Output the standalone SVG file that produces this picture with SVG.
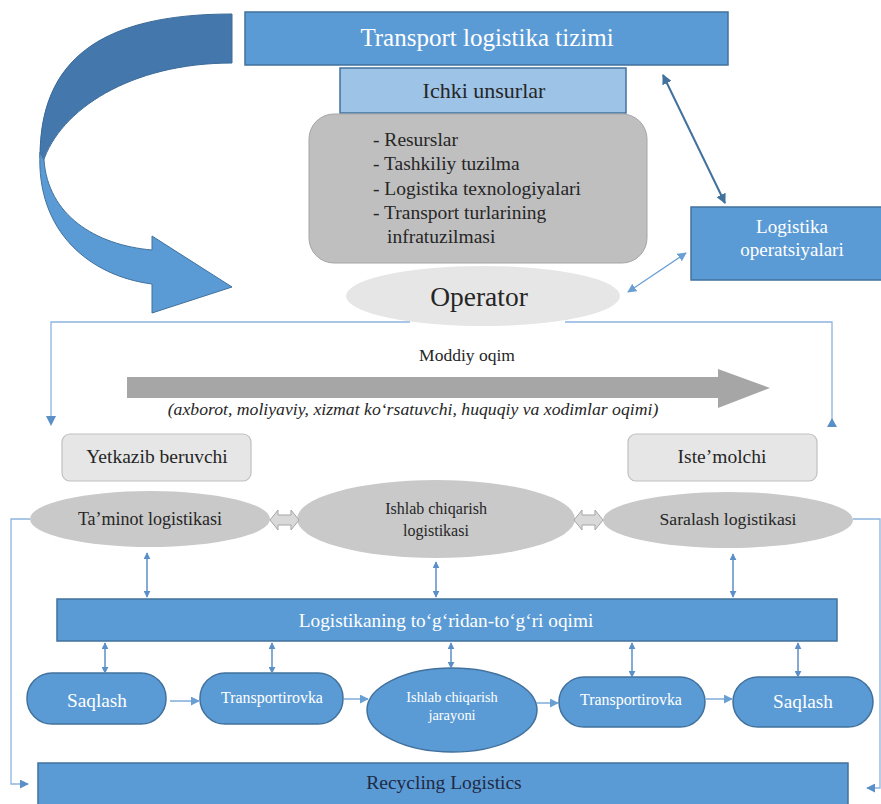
<svg xmlns="http://www.w3.org/2000/svg" width="881" height="804" viewBox="0 0 881 804" font-family="Liberation Serif, Times New Roman, Times, serif">
<defs>
<style>
.blue{fill:#5b9bd5;stroke:#41719c;stroke-width:1.5}
.lblue{fill:#9dc3e6;stroke:#41719c;stroke-width:1.5}
.gbox{fill:#bfbfbf;stroke:#a5a5a5;stroke-width:1}
.lgbox{fill:#e7e6e6;stroke:#c0c0c0;stroke-width:1.2}
.gell{fill:#c9c9c9;stroke:none}
.t{text-anchor:middle}
.w{fill:#ffffff}
.d{fill:#262626}
.ln{fill:none;stroke:#8db4de;stroke-width:1.3}
.va{fill:none;stroke:#5b8fc7;stroke-width:1.5}
.ha{fill:none;stroke:#6a9fd4;stroke-width:1.3}
.gdbl{fill:#d9d9d9;stroke:#a6a6a6;stroke-width:1}
</style>
<marker id="ah" viewBox="0 0 10 10" refX="9" refY="5" markerWidth="7" markerHeight="7" markerUnits="userSpaceOnUse" orient="auto-start-reverse"><path d="M0,0 L10,5 L0,10 Z" fill="#5b8fc7"/></marker>
<marker id="ahs" viewBox="0 0 10 10" refX="9" refY="5" markerWidth="9" markerHeight="9" markerUnits="userSpaceOnUse" orient="auto-start-reverse"><path d="M0,0 L10,5 L0,10 Z" fill="#6a9fd4"/></marker>
<marker id="ahd" viewBox="0 0 10 10" refX="9" refY="5" markerWidth="10" markerHeight="10" markerUnits="userSpaceOnUse" orient="auto-start-reverse"><path d="M0,0 L10,5 L0,10 Z" fill="#41719c"/></marker>
<marker id="ahl" viewBox="0 0 10 10" refX="9" refY="5" markerWidth="9" markerHeight="9" markerUnits="userSpaceOnUse" orient="auto-start-reverse"><path d="M0,0 L10,5 L0,10 Z" fill="#5b8fc7"/></marker>
</defs>
<rect width="881" height="804" fill="#ffffff"/>

<g id="curved-arrow">
<path d="M232,14 L232,63 C130,63 60,110 43,162 L40,157 C40,60 100,14 232,14 Z" fill="#4478ad" stroke="#3a6a99" stroke-width="1"/>
<path d="M40,152 C36,232 90,276 152,284 L152,313 L232,287 L152,236 L152,250 C95,245 48,215 44,160 Z" fill="#5b9bd5" stroke="#41719c" stroke-width="1"/>
</g>

<g id="transport-logistika-tizimi">
<rect class="blue" x="245" y="12" width="483" height="53"/>
<text class="t w" x="487" y="46" font-size="25">Transport logistika tizimi</text>
</g>

<g id="ichki-unsurlar">
<rect class="lblue" x="340" y="68" width="286" height="45"/>
<text class="t d" x="484" y="98" font-size="22">Ichki unsurlar</text>
</g>

<g id="elements">
<rect class="gbox" x="309" y="114" width="338" height="149" rx="25"/>
<g font-size="19.5" fill="#262626">
<text x="373" y="146">- Resurslar</text>
<text x="373" y="170">- Tashkiliy tuzilma</text>
<text x="373" y="195">- Logistika texnologiyalari</text>
<text x="373" y="219">- Transport turlarining</text>
<text x="387" y="243">infratuzilmasi</text>
</g>
</g>

<g id="operator">
<ellipse cx="483" cy="296" rx="137" ry="30" fill="#e7e6e6"/>
<text class="t d" x="479" y="306" font-size="27.5">Operator</text>
</g>

<g id="logistika-operatsiyalari">
<rect class="blue" x="691" y="207" width="195" height="73"/>
<text class="t w" x="792" y="233" font-size="19">Logistika</text>
<text class="t w" x="792" y="256" font-size="19">operatsiyalari</text>
</g>

<g id="moddiy-oqim">
<text class="t d" x="467" y="361" font-size="17.5">Moddiy oqim</text>
<polygon points="127,377 718,377 718,369 770,388 718,408 718,398 127,398" fill="#a6a6a6"/>
<text class="t d" x="413" y="415" font-size="17.7" font-style="italic">(axborot, moliyaviy, xizmat ko‘rsatuvchi, huquqiy va xodimlar oqimi)</text>
</g>

<g id="yetkazib-beruvchi">
<rect class="lgbox" x="62" y="434" width="189" height="47" rx="8"/>
<text class="t d" x="157" y="463" font-size="19.5">Yetkazib beruvchi</text>
</g>

<g id="iste-molchi">
<rect class="lgbox" x="628" y="434" width="189" height="47" rx="8"/>
<text class="t d" x="722" y="463" font-size="19.5">Iste’molchi</text>
</g>

<g id="taminot-logistikasi">
<ellipse class="gell" cx="150" cy="519" rx="120" ry="28"/>
<text class="t d" x="150" y="525" font-size="18">Ta’minot logistikasi</text>
</g>

<g id="ishlab-chiqarish-logistikasi">
<ellipse class="gell" cx="436" cy="519" rx="139" ry="39"/>
<text class="t d" x="436" y="514" font-size="16">Ishlab chiqarish</text>
<text class="t d" x="436" y="536" font-size="16">logistikasi</text>
</g>

<g id="saralash-logistikasi">
<ellipse class="gell" cx="728" cy="520" rx="125" ry="28"/>
<text class="t d" x="728" y="525" font-size="17.7">Saralash logistikasi</text>
</g>

<g id="logistikaning-oqimi">
<rect class="blue" x="57" y="599" width="780" height="42"/>
<text class="t w" x="446" y="627" font-size="19.3">Logistikaning to‘g‘ridan-to‘g‘ri oqimi</text>
</g>

<g id="saqlash-1">
<rect class="blue" x="27" y="673" width="139" height="51" rx="25"/>
<text class="t w" x="97" y="707" font-size="19.3">Saqlash</text>
</g>

<g id="transportirovka-1">
<rect class="blue" x="200" y="673" width="143" height="51" rx="25"/>
<text class="t w" x="272" y="703" font-size="15.9">Transportirovka</text>
</g>

<g id="ishlab-chiqarish-jarayoni">
<ellipse class="blue" cx="452" cy="710" rx="85" ry="42"/>
<text class="t w" x="452" y="702" font-size="14.4">Ishlab chiqarish</text>
<text class="t w" x="452" y="720" font-size="14.4">jarayoni</text>
</g>

<g id="transportirovka-2">
<rect class="blue" x="559" y="677" width="146" height="50" rx="25"/>
<text class="t w" x="631" y="705" font-size="15.9">Transportirovka</text>
</g>

<g id="saqlash-2">
<rect class="blue" x="733" y="677" width="140" height="50" rx="25"/>
<text class="t w" x="803" y="708" font-size="19.3">Saqlash</text>
</g>

<g id="recycling-logistics">
<rect class="blue" x="38" y="763" width="810" height="45"/>
<text class="t" x="444" y="789" font-size="19.5" fill="#1f2a44">Recycling Logistics</text>
</g>

<g id="connectors">
<line x1="663" y1="75" x2="725" y2="203" stroke="#41719c" stroke-width="2" marker-start="url(#ahd)" marker-end="url(#ahd)"/>
<line x1="628" y1="292" x2="686" y2="253" class="ha" marker-start="url(#ahs)" marker-end="url(#ahs)"/>
<polyline class="ln" points="410,322 51,322 51,418"/>
<path d="M46,416 L56,416 L51,426 Z" fill="#5b8fc7"/>
<polyline class="ln" points="565,322 832,322 832,420"/>
<path d="M827,427 L837,427 L832,418 Z" fill="#5b8fc7"/>
<polygon class="gdbl" points="270,520 278,510 278,515 291,515 291,510 299,520 291,530 291,525 278,525 278,530"/>
<polygon class="gdbl" points="574,520 582,510 582,515 595,515 595,510 603,520 595,530 595,525 582,525 582,530"/>
<polyline class="ln" points="30,519 11,519 11,784 28,784" marker-end="url(#ahl)"/>
<polyline class="ln" points="853,519 880,519 880,788 867,788" marker-end="url(#ahl)"/>
<line class="va" x1="147" y1="553" x2="147" y2="597" marker-start="url(#ah)" marker-end="url(#ah)"/>
<line class="va" x1="436" y1="562" x2="436" y2="597" marker-start="url(#ah)" marker-end="url(#ah)"/>
<line class="va" x1="733" y1="554" x2="733" y2="597" marker-start="url(#ah)" marker-end="url(#ah)"/>
<line class="va" x1="105" y1="643" x2="105" y2="673" marker-start="url(#ah)" marker-end="url(#ah)"/>
<line class="va" x1="272" y1="643" x2="272" y2="673" marker-start="url(#ah)" marker-end="url(#ah)"/>
<line class="va" x1="451" y1="643" x2="451" y2="668" marker-start="url(#ah)" marker-end="url(#ah)"/>
<line class="va" x1="632" y1="643" x2="632" y2="677" marker-start="url(#ah)" marker-end="url(#ah)"/>
<line class="va" x1="798" y1="643" x2="798" y2="677" marker-start="url(#ah)" marker-end="url(#ah)"/>
<line class="ha" x1="170" y1="701" x2="199" y2="701" marker-end="url(#ahs)"/>
<line class="ha" x1="344" y1="699" x2="368" y2="699" marker-end="url(#ahs)"/>
<line class="ha" x1="537" y1="703" x2="558" y2="703" marker-end="url(#ahs)"/>
<line class="ha" x1="706" y1="699" x2="732" y2="699" marker-end="url(#ahs)"/>
</g>
</svg>
